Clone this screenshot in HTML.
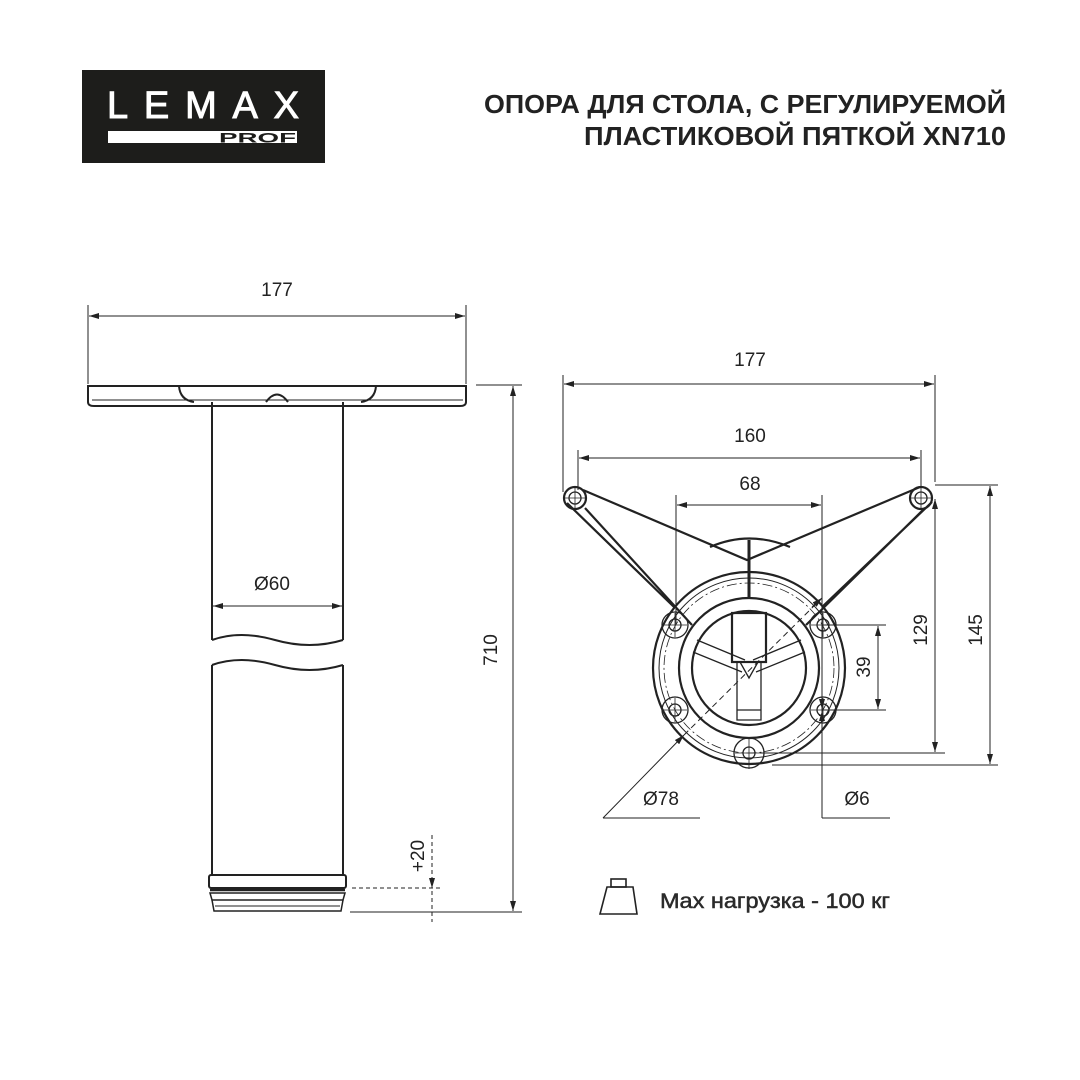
<!DOCTYPE html>
<html><head><meta charset="utf-8"><style>
html,body{margin:0;padding:0;background:#fff}
svg{display:block}
text{font-family:"Liberation Sans","DejaVu Sans",sans-serif;fill:#222}
</style></head><body>
<svg width="1080" height="1080" viewBox="0 0 1080 1080" xmlns="http://www.w3.org/2000/svg">
<defs>
<marker id="a" viewBox="0 0 10 6" refX="10" refY="3" markerWidth="10" markerHeight="6" orient="auto-start-reverse" markerUnits="userSpaceOnUse"><path d="M0,0L10,3L0,6z" fill="#222"/></marker>
</defs>
<!-- logo -->
<rect x="82" y="70" width="243" height="93" fill="#1d1d1b"/>
<text x="107" y="118" font-size="38" textLength="192" lengthAdjust="spacing" style="fill:#fff;stroke:#fff;stroke-width:1">LEMAX</text>
<rect x="108" y="131" width="189" height="12" fill="#fff"/>
<text x="219" y="142.5" font-size="14" font-weight="bold" textLength="77" lengthAdjust="spacingAndGlyphs" style="fill:#1d1d1b">PROF</text>
<!-- title -->
<text x="1006" y="113" font-size="26" font-weight="bold" text-anchor="end" textLength="522" lengthAdjust="spacingAndGlyphs">ОПОРА ДЛЯ СТОЛА, С РЕГУЛИРУЕМОЙ</text>
<text x="1006" y="145" font-size="26" font-weight="bold" text-anchor="end" textLength="422" lengthAdjust="spacingAndGlyphs">ПЛАСТИКОВОЙ ПЯТКОЙ XN710</text>

<g stroke="#222" fill="none" stroke-width="1">
<!-- left view dims -->
<line x1="88" y1="305" x2="88" y2="384"/><line x1="466" y1="305" x2="466" y2="384"/>
<line x1="89" y1="316" x2="465" y2="316" marker-start="url(#a)" marker-end="url(#a)"/>
<line x1="213" y1="606" x2="342" y2="606" marker-start="url(#a)" marker-end="url(#a)"/>
<line x1="476" y1="385" x2="522" y2="385"/><line x1="350" y1="912" x2="522" y2="912"/>
<line x1="513" y1="386" x2="513" y2="911" marker-start="url(#a)" marker-end="url(#a)"/>
<line x1="432" y1="835" x2="432" y2="922" stroke-dasharray="4,3"/>
<line x1="352" y1="888" x2="442" y2="888" stroke-dasharray="4,3"/>
<line x1="432" y1="880" x2="432" y2="888" marker-end="url(#a)"/>
<!-- plate -->
<g stroke-width="2">
<path d="M88,386 H466 V402 Q466,406 460,406 H94 Q88,406 88,402 Z"/>
<line x1="92" y1="400" x2="463" y2="400" stroke-width="1"/>
<path d="M179,386 Q180,400 194,402"/><path d="M376,386 Q375,400 361,402"/>
<path d="M266,402 Q277,387 288,402"/>
<!-- tube -->
<line x1="212" y1="402" x2="212" y2="640"/><line x1="343" y1="402" x2="343" y2="640"/>
<path d="M212,640 Q240,630 275,640 T343,640"/>
<path d="M212,665 Q240,655 275,665 T343,665"/>
<line x1="212" y1="665" x2="212" y2="875"/><line x1="343" y1="665" x2="343" y2="875"/>
<rect x="209" y="875" width="137" height="13" rx="2"/>
<line x1="210" y1="890" x2="345" y2="890" stroke-width="2.5"/>
<path d="M210,893 H345 L343,900 H212 Z" stroke-width="1.5"/>
<path d="M212,900 L214,911 H341 L343,900" stroke-width="1.5"/>
<line x1="215" y1="906" x2="340" y2="906" stroke-width="1"/>
</g>

<!-- right view dims -->
<line x1="563" y1="375" x2="563" y2="492"/><line x1="935" y1="375" x2="935" y2="482"/>
<line x1="564" y1="384" x2="934" y2="384" marker-start="url(#a)" marker-end="url(#a)"/>
<line x1="578" y1="450" x2="578" y2="490"/><line x1="921" y1="450" x2="921" y2="488"/>
<line x1="579" y1="458" x2="920" y2="458" marker-start="url(#a)" marker-end="url(#a)"/>
<line x1="676" y1="495" x2="676" y2="625"/><line x1="822" y1="495" x2="822" y2="818"/>
<line x1="677" y1="505" x2="821" y2="505" marker-start="url(#a)" marker-end="url(#a)"/>
<line x1="935" y1="485" x2="998" y2="485"/><line x1="760" y1="753" x2="945" y2="753"/><line x1="772" y1="765" x2="998" y2="765"/>
<line x1="935" y1="499" x2="935" y2="752" marker-start="url(#a)" marker-end="url(#a)"/>
<line x1="990" y1="486" x2="990" y2="764" marker-start="url(#a)" marker-end="url(#a)"/>
<line x1="823" y1="625" x2="886" y2="625"/><line x1="823" y1="710" x2="886" y2="710"/>
<line x1="878" y1="626" x2="878" y2="709" marker-start="url(#a)" marker-end="url(#a)"/>
<line x1="822" y1="690" x2="822" y2="709" marker-end="url(#a)"/>
<line x1="822" y1="735" x2="822" y2="711" marker-end="url(#a)"/>
<line x1="822" y1="818" x2="890" y2="818"/>
<line x1="603" y1="818" x2="700" y2="818"/><line x1="603" y1="818" x2="684" y2="735" marker-end="url(#a)"/>
<line x1="684" y1="735" x2="822" y2="598" stroke-dasharray="6,4"/>
<line x1="812" y1="607" x2="822" y2="598" marker-end="url(#a)"/>

<!-- part -->
<g stroke-width="2.2">
<circle cx="749" cy="668" r="96"/>
<circle cx="749" cy="668" r="70"/>
<circle cx="749" cy="668" r="57"/>
<path d="M567,503 L674,607 M692,625 L585,508 M583,490 L747,560 L920,487 M932,502 L822,607 M806,625 L925,508"/>
<line x1="749" y1="540" x2="749" y2="597" stroke-width="3"/>
<path d="M710,547 Q749,530 790,547"/>
<circle cx="575" cy="498" r="11"/><circle cx="921" cy="498" r="11"/>
<rect x="732" y="613" width="34" height="49"/>
</g>
<circle cx="749" cy="668" r="90" stroke-width="1"/>
<circle cx="749" cy="668" r="85" stroke-width="0.8" stroke-dasharray="10,3,2,3"/>
<g stroke-width="1.3">
<circle cx="575" cy="498" r="6"/><circle cx="921" cy="498" r="6"/>
<circle cx="675" cy="625" r="6"/><circle cx="823" cy="625" r="6"/>
<circle cx="675" cy="710" r="6"/><circle cx="823" cy="710" r="6"/>
<circle cx="749" cy="753" r="6"/>
<circle cx="675" cy="625" r="13"/><circle cx="823" cy="625" r="13"/>
<circle cx="675" cy="710" r="13"/><circle cx="823" cy="710" r="13"/>
<circle cx="749" cy="753" r="15"/>
<path d="M737,662 V720 H761 V662 M740,662 L749,678 L758,662"/>
<path d="M693,652 L742,672 M697,640 L745,660 M805,652 L756,672 M801,640 L753,660"/>
<line x1="737" y1="710" x2="761" y2="710"/>
</g>
<g stroke-width="0.8">
<path d="M563,498h24M575,486v24M909,498h24M921,486v24M663,625h24M675,613v24M811,625h24M823,613v24M663,710h24M675,698v24M811,710h24M823,698v24M735,753h28M749,739v30"/>
</g>
<!-- weight icon -->
<path d="M600,914 L607,887 H633 L637,914 Z" stroke-width="1.6"/>
<rect x="611" y="879" width="15" height="8" stroke-width="1.6"/>
</g>

<g font-size="19">
<text x="277" y="296" text-anchor="middle">177</text>
<text x="272" y="590" text-anchor="middle">Ø60</text>
<text transform="translate(497,650) rotate(-90)" text-anchor="middle">710</text>
<text transform="translate(424,856) rotate(-90)" text-anchor="middle">+20</text>
<text x="750" y="366" text-anchor="middle">177</text>
<text x="750" y="442" text-anchor="middle">160</text>
<text x="750" y="490" text-anchor="middle">68</text>
<text transform="translate(927,630) rotate(-90)" text-anchor="middle">129</text>
<text transform="translate(982,630) rotate(-90)" text-anchor="middle">145</text>
<text transform="translate(870,667) rotate(-90)" text-anchor="middle">39</text>
<text x="661" y="805" text-anchor="middle">Ø78</text>
<text x="857" y="805" text-anchor="middle">Ø6</text>
<text x="660" y="908" font-size="21" textLength="230" lengthAdjust="spacingAndGlyphs" style="fill:#2a2a2a;stroke:#2a2a2a;stroke-width:0.5">Max нагрузка - 100 кг</text>
</g>
</svg>
</body></html>
